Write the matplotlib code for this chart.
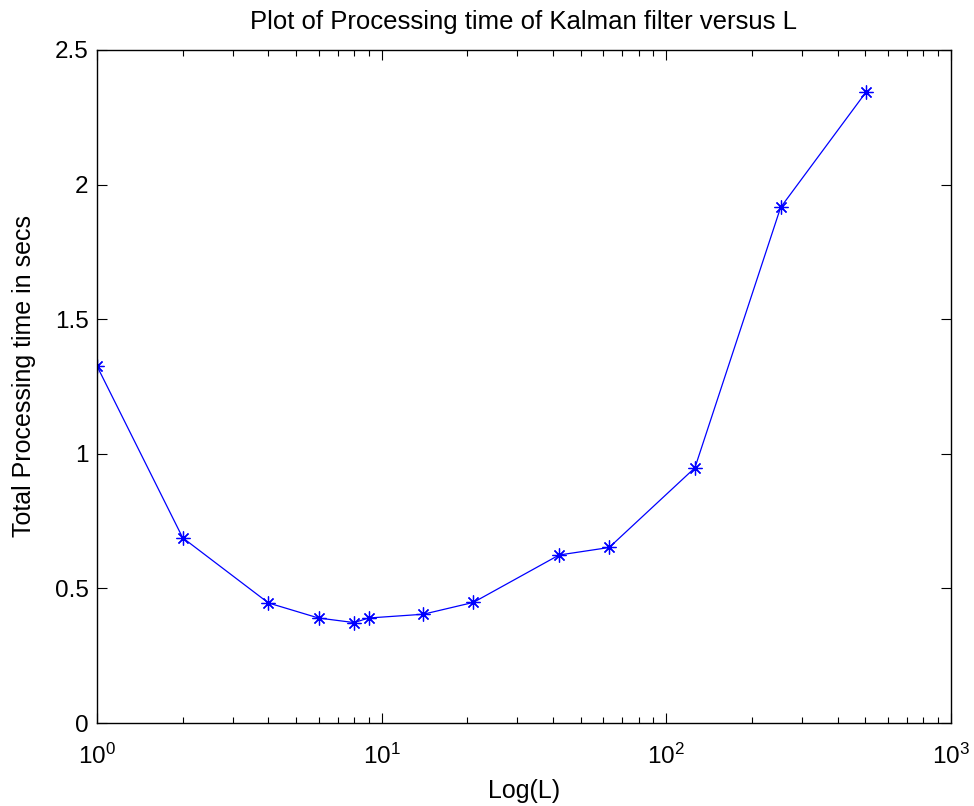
import matplotlib
matplotlib.use("Agg")
import matplotlib.pyplot as plt
from matplotlib.ticker import LogLocator, FixedLocator, FixedFormatter, NullFormatter

# Data
L_values = [1, 2, 4, 6, 8, 9, 14, 21, 42, 63, 126, 252, 504]
proc_time = [1.326, 0.688, 0.446, 0.390, 0.373, 0.390, 0.404, 0.448, 0.624, 0.652, 0.948, 1.915, 2.345]
y_ticks = [0, 0.5, 1, 1.5, 2, 2.5]
y_tick_labels = ["0", "0.5", "1", "1.5", "2", "2.5"]

plt.rcParams['font.family'] = ['Liberation Sans', 'DejaVu Sans']
plt.rcParams['mathtext.fontset'] = 'custom'
plt.rcParams['mathtext.rm'] = 'Liberation Sans'
plt.rcParams['mathtext.it'] = 'Liberation Sans'
plt.rcParams['mathtext.bf'] = 'Liberation Sans'

fig = plt.figure(figsize=(9.74, 8.06), dpi=100)
ax = fig.add_axes([97/974, 1 - 723/806, (951-97)/974, (723-50)/806])

ax.plot(L_values, proc_time, color='#0000ff', linewidth=0.9,
        marker=(8, 2, 0), markersize=10, markeredgewidth=0.9)

ax.set_xscale('log')
ax.set_xlim(1, 1000)
ax.set_ylim(0, 2.5)
ax.yaxis.set_major_locator(FixedLocator(y_ticks))
ax.yaxis.set_major_formatter(FixedFormatter(y_tick_labels))
ax.xaxis.set_major_locator(LogLocator(base=10, numticks=10))
ax.xaxis.set_minor_locator(LogLocator(base=10, subs=range(2, 10), numticks=20))
ax.xaxis.set_minor_formatter(NullFormatter())

ax.tick_params(axis='both', which='both', direction='in', top=True, right=True,
               labelsize=17.5, colors='black')
ax.tick_params(axis='both', which='major', length=7, width=0.8)
ax.tick_params(axis='x', which='minor', length=4, width=0.8)
ax.tick_params(axis='x', which='major', pad=15)
ax.tick_params(axis='y', which='major', pad=6)
for s in ax.spines.values():
    s.set_linewidth(1.0)

ax.set_title('Plot of Processing time of Kalman filter versus L', fontsize=18.5, pad=15)
ax.set_xlabel('Log(L)', fontsize=18, labelpad=7)
ax.set_ylabel('Total Processing time in secs', fontsize=18)
ax.yaxis.set_label_coords(-0.071, 0.515)

fig.savefig('out.png', dpi=100)
